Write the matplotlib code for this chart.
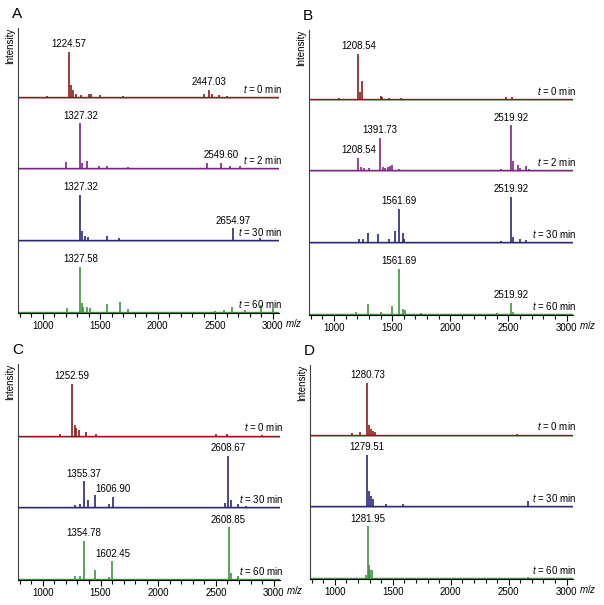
import matplotlib
matplotlib.use("Agg")
import matplotlib.pyplot as plt
from matplotlib.ticker import MultipleLocator
import matplotlib.transforms as mtransforms

# ----------------------
# Fonts / style
# ----------------------
plt.rcParams['font.family'] = ['Liberation Sans', 'DejaVu Sans']
plt.rcParams['mathtext.fontset'] = 'custom'
plt.rcParams['mathtext.it'] = 'Liberation Sans:italic'
plt.rcParams['mathtext.rm'] = 'Liberation Sans'

# ----------------------
# Data (peak lists: m/z, relative intensity)
# ----------------------
# Panel A
a_t0_mz = [1040, 1224.57, 1245, 1262, 1290, 1330, 1400, 1420, 1500, 1700, 2400, 2447.03, 2470, 2530, 2600]
a_t0_int = [0.02, 1.0, 0.25, 0.15, 0.06, 0.04, 0.05, 0.06, 0.03, 0.02, 0.06, 0.15, 0.06, 0.03, 0.02]
a_t0_marked = [1224.57, 2447.03]

a_t2_mz = [1199, 1327.32, 1340, 1387, 1487, 1563, 1746, 2430, 2549.60, 2630, 2717]
a_t2_int = [0.15, 1.0, 0.12, 0.16, 0.05, 0.06, 0.03, 0.12, 0.12, 0.06, 0.05]
a_t2_marked = [1327.32, 2549.60]

a_t30_mz = [1327.32, 1345, 1365, 1390, 1555, 1660, 2654.97, 2890]
a_t30_int = [1.0, 0.2, 0.1, 0.06, 0.09, 0.05, 0.26, 0.04]
a_t30_marked = [1327.32, 2654.97]

a_t60_mz = [1214, 1327.58, 1340, 1352, 1387, 1407, 1561, 1668, 1746, 2500, 2580, 2645, 2760, 2896, 3003]
a_t60_int = [0.08, 1.0, 0.2, 0.12, 0.12, 0.08, 0.17, 0.21, 0.07, 0.03, 0.04, 0.12, 0.04, 0.16, 0.08]
a_t60_marked = [1327.58]

# Panel B
b_t0_mz = [1040, 1208.54, 1226, 1243, 1402, 1412, 1475, 1575, 2483, 2530]
b_t0_int = [0.02, 1.0, 0.15, 0.39, 0.07, 0.04, 0.02, 0.02, 0.03, 0.03]
b_t0_marked = [1208.54]

b_t2_mz = [1208.54, 1235, 1260, 1300, 1391.73, 1420, 1440, 1460, 1480, 1495, 1560, 2440, 2519.92, 2535, 2582, 2600, 2650, 2680]
b_t2_int = [0.28, 0.08, 0.06, 0.05, 0.72, 0.08, 0.06, 0.08, 0.1, 0.12, 0.03, 0.03, 1.0, 0.2, 0.12, 0.06, 0.1, 0.04]
b_t2_marked = [1208.54, 1391.73, 2519.92]

b_t30_mz = [1215, 1250, 1296, 1377, 1470, 1528, 1561.69, 1590, 1605, 2440, 2519.92, 2540, 2600, 2650]
b_t30_int = [0.07, 0.08, 0.2, 0.18, 0.06, 0.24, 0.73, 0.2, 0.08, 0.03, 1.0, 0.12, 0.06, 0.04]
b_t30_marked = [1561.69, 2519.92]

b_t60_mz = [1190, 1295, 1405, 1500, 1561.69, 1590, 1610, 1750, 2400, 2519.92, 2540]
b_t60_int = [0.05, 0.22, 0.04, 0.17, 1.0, 0.12, 0.08, 0.02, 0.03, 0.25, 0.05]
b_t60_marked = [1561.69, 2519.92]

# Panel C
c_t0_mz = [1153, 1252.59, 1275, 1290, 1310, 1373, 1460, 2500, 2600, 2900]
c_t0_int = [0.03, 1.0, 0.21, 0.15, 0.1, 0.08, 0.04, 0.04, 0.04, 0.02]
c_t0_marked = [1252.59]

c_t30_mz = [1275, 1321, 1355.37, 1390, 1451, 1573, 1606.90, 2580, 2608.67, 2630, 2690, 2760]
c_t30_int = [0.05, 0.06, 0.5, 0.15, 0.24, 0.06, 0.2, 0.08, 1.0, 0.15, 0.06, 0.03]
c_t30_marked = [1355.37, 1606.90, 2608.67]

c_t60_mz = [1275, 1321, 1354.78, 1451, 1573, 1602.45, 2608.85, 2630, 2690]
c_t60_int = [0.05, 0.06, 0.73, 0.17, 0.04, 0.34, 1.0, 0.12, 0.06]
c_t60_marked = [1354.78, 1602.45, 2608.85]

# Panel D
d_t0_mz = [1150, 1215, 1280.73, 1295, 1310, 1330, 1350, 2570]
d_t0_int = [0.03, 0.05, 1.0, 0.18, 0.1, 0.08, 0.06, 0.02]
d_t0_marked = [1280.73]

d_t30_mz = [1279.51, 1295, 1310, 1330, 1445, 1590, 2664]
d_t30_int = [1.0, 0.3, 0.2, 0.15, 0.04, 0.04, 0.1]
d_t30_marked = [1279.51]

d_t60_mz = [1265, 1281.95, 1295, 1305, 1320, 2664]
d_t60_int = [0.05, 1.0, 0.25, 0.15, 0.15, 0.02]
d_t60_marked = [1281.95]

# ----------------------
# Colours
# ----------------------
RED = '#8b1a1a'
PURPLE = '#82208a'
NAVY = '#28287f'
GREEN = '#3c963c'

panels = {
    'A': [(a_t0_mz, a_t0_int, a_t0_marked, '0', RED),
          (a_t2_mz, a_t2_int, a_t2_marked, '2', PURPLE),
          (a_t30_mz, a_t30_int, a_t30_marked, '30', NAVY),
          (a_t60_mz, a_t60_int, a_t60_marked, '60', GREEN)],
    'B': [(b_t0_mz, b_t0_int, b_t0_marked, '0', RED),
          (b_t2_mz, b_t2_int, b_t2_marked, '2', PURPLE),
          (b_t30_mz, b_t30_int, b_t30_marked, '30', NAVY),
          (b_t60_mz, b_t60_int, b_t60_marked, '60', GREEN)],
    'C': [(c_t0_mz, c_t0_int, c_t0_marked, '0', RED),
          (c_t30_mz, c_t30_int, c_t30_marked, '30', NAVY),
          (c_t60_mz, c_t60_int, c_t60_marked, '60', GREEN)],
    'D': [(d_t0_mz, d_t0_int, d_t0_marked, '0', RED),
          (d_t30_mz, d_t30_int, d_t30_marked, '30', NAVY),
          (d_t60_mz, d_t60_int, d_t60_marked, '60', GREEN)],
}

# axes rectangles in figure pixels (left, top, right, bottom)
W, H = 604, 605
boxes = {
    'A': (18, 28, 279, 313),
    'B': (309, 30, 573, 315),
    'C': (18, 364, 280, 580),
    'D': (310, 365, 573, 579),
}
peak_scale = {'A': 0.63, 'B': 0.63, 'C': 0.72, 'D': 0.72}

# ----------------------
# Plot
# ----------------------
fig = plt.figure(figsize=(W / 100, H / 100), dpi=100)

for name, spectra in panels.items():
    l, t, r, b = boxes[name]
    ax = fig.add_axes([l / W, 1 - b / H, (r - l) / W, (b - t) / H])
    n = len(spectra)
    scale = peak_scale[name]
    trans = mtransforms.blended_transform_factory(ax.transAxes, ax.transData)

    for i, (mz, inten, marked, tlabel, color) in enumerate(spectra):
        off = n - 1 - i
        ax.axhline(off - 0.012, color='#b8b8b8', lw=1.4, zorder=1)
        ax.axhline(off, color=color, lw=1.0, zorder=2)
        tops = [off + v * scale for v in inten]
        ax.vlines(mz, off, tops, color=color, lw=1.2, zorder=3)
        for m in marked:
            v = inten[mz.index(m)]
            ax.annotate(f"{m:.2f}", xy=(m, off + v * scale), xytext=(0, 2),
                        textcoords='offset points', ha='center', va='bottom', fontsize=7)
        ax.text(1.012, off + 0.03, f"$t$ = {tlabel} min", transform=trans,
                ha='right', va='bottom', fontsize=7)

    ax.set_xlim(785, 3055)
    ax.set_ylim(-0.015, (b - t) / 72)
    ax.spines['top'].set_visible(False)
    ax.spines['right'].set_visible(False)
    ax.spines['left'].set_color('#404040')
    ax.set_yticks([])
    ax.xaxis.set_major_locator(MultipleLocator(500))
    ax.xaxis.set_minor_locator(MultipleLocator(100))
    ax.set_xticks([1000, 1500, 2000, 2500, 3000])
    ax.tick_params(axis='x', which='major', length=4, width=0.8, labelsize=7, pad=2)
    ax.tick_params(axis='x', which='minor', length=3, width=0.8)
    ax.annotate('$m/z$', xy=(3000, 0), xycoords=('data', 'axes fraction'),
                xytext=(9, -10.3), textcoords='offset points', ha='left', va='baseline', fontsize=7)
    ax.text(-0.012, 1.0, 'Intensity', rotation=90, transform=ax.transAxes,
            ha='right', va='top', fontsize=7)
    fig.text((l - 6) / W, 1 - (t - 14) / H, name, fontsize=11, ha='left', va='center')

fig.savefig('out.png', dpi=100)
